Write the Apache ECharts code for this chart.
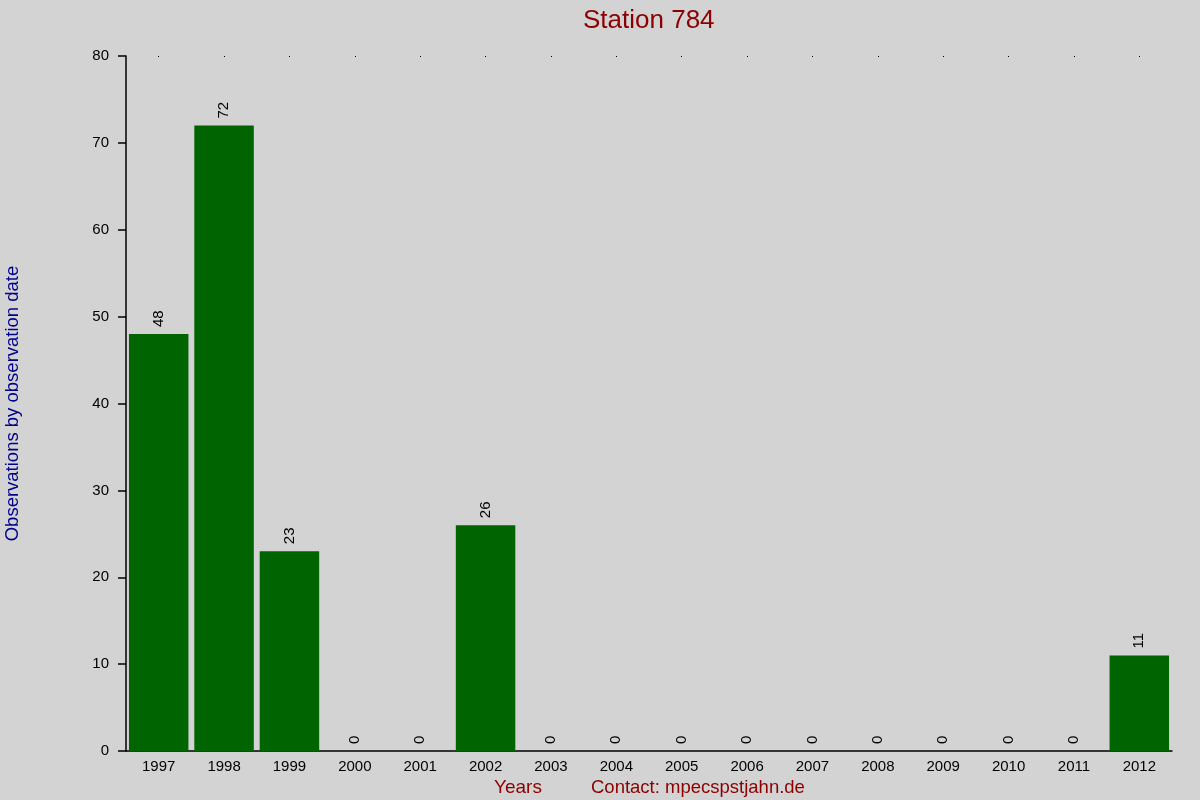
<!DOCTYPE html>
<html><head><meta charset="utf-8">
<script src="https://cdn.jsdelivr.net/npm/echarts@6/dist/echarts.min.js"></script>
<style>html,body{margin:0;padding:0;background:#d3d3d3}#c{width:1200px;height:800px}</style>
</head><body><div id="c"></div>
<script>
var years = ['1997','1998','1999','2000','2001','2002','2003','2004','2005','2006','2007','2008','2009','2010','2011','2012'];
var observations = [48,72,23,0,0,26,0,0,0,0,0,0,0,0,0,11];
var yTicks = [0,10,20,30,40,50,60,70,80];
var FONT = 'Liberation Sans, Arial, sans-serif';
var chart = echarts.init(document.getElementById('c'));
chart.setOption({
  backgroundColor: '#d3d3d3',
  animation: false,
  title: [
    {text: 'Station 784', left: 578, top: 3, textStyle: {color: '#8b0000', fontSize: 26, fontWeight: 'normal', fontFamily: FONT}},
    {text: 'Years', left: 489, top: 773, textStyle: {color: '#8b0000', fontSize: 19, fontWeight: 'normal', fontFamily: FONT}},
    {text: 'Contact: mpecspstjahn.de', left: 586, top: 773, textStyle: {color: '#8b0000', fontSize: 18.5, fontWeight: 'normal', fontFamily: FONT}}
  ],
  grid: {left: 126, right: 28, top: 56, bottom: 49, containLabel: false, outerBoundsMode: 'none'},
  xAxis: [
    {type: 'category', data: years, position: 'bottom',
     axisLine: {show: true, lineStyle: {color: '#000', width: 1.5}},
     axisTick: {show: false},
     axisLabel: {color: '#000', fontSize: 15, fontFamily: FONT, margin: 8}},
    {type: 'category', data: years, position: 'top',
     axisLine: {show: false},
     axisTick: {show: true, alignWithLabel: true, length: 1, inside: true, lineStyle: {color: '#000', width: 1}},
     axisLabel: {show: false}}
  ],
  yAxis: {type: 'value', min: yTicks[0], max: yTicks[yTicks.length-1], interval: 10,
    name: 'Observations by observation date', nameLocation: 'middle', nameGap: 104,
    nameTextStyle: {color: '#00008b', fontSize: 18.5, fontFamily: FONT},
    axisLine: {show: true, lineStyle: {color: '#000', width: 1.5}},
    axisTick: {show: true, length: 8, lineStyle: {color: '#000', width: 1.5}},
    axisLabel: {color: '#000', fontSize: 15, fontFamily: FONT, margin: 17},
    splitLine: {show: false}},
  series: [{
    type: 'bar', data: observations, barCategoryGap: '9%',
    itemStyle: {color: '#006400'},
    label: {show: true, position: 'top', rotate: 90, align: 'left', verticalAlign: 'middle', distance: 7,
      color: '#000', fontSize: 15, fontFamily: FONT}
  }]
});
</script></body></html>
